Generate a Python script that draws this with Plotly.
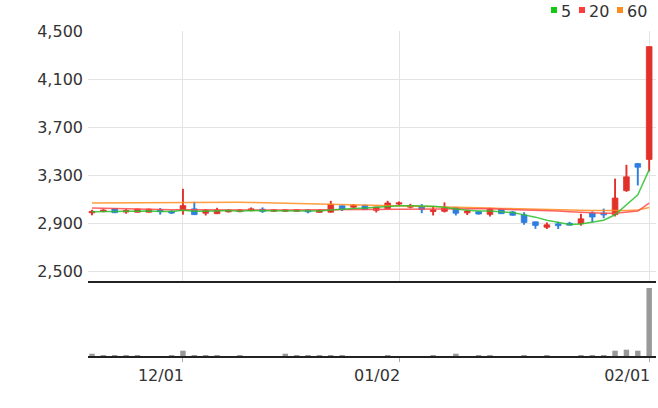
import plotly.graph_objects as go

dates = ["11/21", "11/22", "11/23", "11/24", "11/27", "11/28", "11/29", "11/30",
         "12/01", "12/04", "12/05", "12/06", "12/07", "12/08", "12/11", "12/12", "12/13",
         "12/14", "12/15", "12/18", "12/19", "12/20", "12/21", "12/22", "12/26", "12/27", "12/28",
         "01/02", "01/03", "01/04", "01/05", "01/08", "01/09", "01/10", "01/11", "01/12",
         "01/15", "01/16", "01/17", "01/18", "01/19", "01/22", "01/23", "01/24", "01/25",
         "01/26", "01/29", "01/30", "01/31", "02/01"]

open_ = [2985, 2997, 3020, 2992, 2990, 2990, 3010, 2998, 3005, 3018,
         2982, 2978, 2993, 2995, 3005, 3015, 2998, 2998, 2998, 3008,
         2989, 2990, 3044, 3032, 3048, 3006, 3020, 3058, 3032, 3038,
         2996, 2998, 3030, 2985, 2995, 2972, 3015, 2992, 2968, 2910,
         2865, 2893, 2898, 2895, 2983, 2983, 2970, 3170, 3395, 3430]
high = [3010, 3015, 3025, 3015, 3020, 3020, 3025, 3005, 3185, 3077,
        3017, 3027, 3015, 3017, 3030, 3030, 3013, 3013, 3013, 3015,
        3015, 3085, 3046, 3058, 3052, 3035, 3085, 3080, 3060, 3058,
        3036, 3072, 3033, 3011, 3000, 3028, 3020, 3000, 2990, 2912,
        2905, 2910, 2910, 2977, 2997, 3020, 3270, 3385, 3400, 4370]
low = [2965, 2990, 2983, 2978, 2988, 2988, 2970, 2975, 2970, 2967,
       2963, 2977, 2988, 2990, 2998, 2985, 2993, 2993, 2993, 2982,
       2988, 2988, 3000, 3022, 3009, 2988, 3018, 3050, 3022, 2982,
       2963, 2988, 2963, 2967, 2970, 2955, 2975, 2962, 2886, 2852,
       2850, 2850, 2880, 2878, 2905, 2940, 2955, 3160, 3213, 3330]
close = [2997, 3008, 2986, 3005, 3015, 3015, 2995, 2983, 3045, 2970,
         3005, 3008, 3006, 3008, 3018, 2997, 3010, 3010, 3010, 2993,
         3005, 3055, 3017, 3047, 3012, 3033, 3067, 3069, 3045, 3012,
         3010, 3025, 2982, 3000, 2975, 3015, 2978, 2965, 2905, 2880,
         2885, 2878, 2882, 2935, 2950, 2968, 3108, 3285, 3365, 4370]

ma5 = [2995, 2997, 2998, 2997, 2998, 3000, 2997, 2997, 3006, 2999,
       2999, 3002, 3005, 2999, 3004, 3002, 3002, 3002, 3002, 2999,
       3000, 3009, 3012, 3021, 3025, 3032, 3035, 3044, 3044, 3044,
       3040, 3032, 3016, 3007, 3000, 3000, 2991, 2987, 2968, 2949,
       2923, 2903, 2888, 2892, 2906, 2923, 2969, 3049, 3135, 3345]
ma20 = [3025, 3022, 3019, 3016, 3014, 3012, 3011, 3010, 3010, 3009,
        3009, 3009, 3008, 3008, 3008, 3008, 3008, 3008, 3009, 3009,
        3010, 3011, 3012, 3013, 3014, 3015, 3016, 3017, 3018, 3019,
        3020, 3021, 3021, 3020, 3019, 3018, 3016, 3014, 3012, 3010,
        3006, 3000, 2994, 2988, 2984, 2981, 2982, 2990, 3000, 3066]
ma60 = [3066, 3067, 3068, 3069, 3070, 3071, 3072, 3073, 3074, 3075,
        3075, 3075, 3074, 3073, 3072, 3070, 3069, 3067, 3065, 3063,
        3061, 3059, 3057, 3055, 3052, 3050, 3048, 3046, 3044, 3041,
        3039, 3036, 3033, 3030, 3027, 3025, 3022, 3019, 3016, 3013,
        3011, 3009, 3007, 3006, 3005, 3004, 3004, 3005, 3008, 3030]

volume = [46000, 20000, 20000, 20000, 20000, 0, 0, 20000, 106000, 20000,
          20000, 20000, 0, 20000, 0, 0, 0, 46000, 20000, 20000,
          20000, 20000, 20000, 0, 0, 0, 20000, 0, 0, 0,
          20000, 0, 46000, 0, 20000, 20000, 0, 0, 20000, 0,
          20000, 0, 0, 20000, 20000, 20000, 106000, 126000, 106000, 1360000]

price_ticks = [2500, 2900, 3300, 3700, 4100, 4500]
date_ticks = ["12/01", "01/02", "02/01"]
legend_names = ["5", "20", "60"]

RED = "#e2302b"
BLUE = "#2f7ee0"
MA_COLORS = ["#2cc02c", "#ff4848", "#ff8c1e"]
LEG_COLORS = ["#14c814", "#ff3c3c", "#ff8c1e"]
FONT = "DejaVu Sans"

cols = [RED if c >= o else BLUE for o, c in zip(open_, close)]

fig = go.Figure()

for vals, col in zip([ma60, ma20, ma5], [MA_COLORS[2], MA_COLORS[1], MA_COLORS[0]]):
    fig.add_trace(go.Scatter(x=dates, y=vals, mode="lines",
                             line=dict(color=col, width=1.5), opacity=0.85,
                             xaxis="x", yaxis="y", hoverinfo="skip"))

# wicks
fig.add_trace(go.Bar(x=dates, y=[h - l for h, l in zip(high, low)], base=low,
                     width=0.17, marker=dict(color=cols, line=dict(width=0)),
                     xaxis="x", yaxis="y", hoverinfo="skip"))
# bodies
fig.add_trace(go.Bar(x=dates, y=[max(abs(c - o), 1) for o, c in zip(open_, close)],
                     base=[min(o, c) for o, c in zip(open_, close)],
                     width=0.5, marker=dict(color=cols, line=dict(width=0.8, color=cols)),
                     xaxis="x", yaxis="y", hoverinfo="skip"))
# volume
fig.add_trace(go.Bar(x=dates, y=volume, width=0.48,
                     marker=dict(color="#999999", line=dict(width=0)),
                     xaxis="x2", yaxis="y2", hoverinfo="skip"))

split = 75 / 325

fig.update_layout(
    width=658, height=408,
    margin=dict(l=88, r=2, t=31, b=52),
    paper_bgcolor="white", plot_bgcolor="white",
    showlegend=False, barmode="overlay", hovermode=False,
    font=dict(family=FONT, size=16, color="#333333"),
    xaxis=dict(type="category", categoryorder="array", categoryarray=dates,
               range=[-0.35, 49.6], domain=[0, 1], anchor="y",
               tickvals=date_ticks, showticklabels=False, ticks="",
               showgrid=True, gridcolor="#e3e3e3", gridwidth=1,
               showline=True, linecolor="#222222", linewidth=1.5,
               zeroline=False, fixedrange=True),
    yaxis=dict(domain=[split, 1], range=[2417, 4500], anchor="x",
               tickvals=price_ticks, tickformat=",",
               showgrid=True, gridcolor="#e3e3e3", gridwidth=1,
               zeroline=False, showline=False, ticks="",
               ticklabelstandoff=4,
               tickfont=dict(family=FONT, size=16, color="#333333")),
    xaxis2=dict(type="category", categoryorder="array", categoryarray=dates,
                range=[-0.35, 49.6], domain=[0, 1], anchor="y2",
                tickvals=date_ticks, ticktext=date_ticks,
                ticks="outside", ticklen=4, tickcolor="#aaaaaa", tickwidth=1,
                ticklabelshift=-22,
                tickfont=dict(family=FONT, size=16, color="#333333"),
                showgrid=False, showline=True, linecolor="#222222", linewidth=1.5,
                zeroline=False),
    yaxis2=dict(domain=[0, split], range=[0, 1500000], anchor="x2",
                showticklabels=False, showgrid=False, zeroline=False, ticks=""),
)

# legend (top right)
sq_x = [551, 579, 617]
tx_x = [560, 588, 626]
W = 568.0
H = 325.0
for name, col, sx, tx in zip(legend_names, LEG_COLORS, sq_x, tx_x):
    fig.add_shape(type="rect", xref="paper", yref="paper",
                  x0=(sx - 88) / W, x1=(sx + 6 - 88) / W,
                  y0=(356 - 13) / H, y1=(356 - 7) / H,
                  fillcolor=col, line=dict(width=0))
    fig.add_annotation(text=name, xref="paper", yref="paper",
                       x=(tx - 88) / W, y=(356 - 11) / H,
                       xanchor="left", yanchor="middle", showarrow=False,
                       borderpad=0,
                       font=dict(family=FONT, size=16, color="#333333"))

fig.write_html("out.html",
               config={"displayModeBar": False, "staticPlot": True},
               post_script="document.body.style.margin='0px';"
                           "document.body.style.overflow='hidden';")
